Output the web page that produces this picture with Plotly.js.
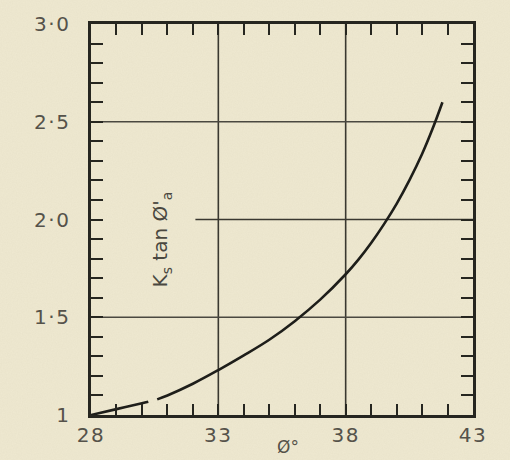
<!DOCTYPE html>
<html>
<head>
<meta charset="utf-8">
<script src="https://cdn.plot.ly/plotly-3.0.1.min.js"></script>
<style>
html,body{margin:0;padding:0;}
body{width:510px;height:460px;background-color:#efe9d1;
background-image:url("data:image/svg+xml;utf8,<svg xmlns='http://www.w3.org/2000/svg' width='510' height='460'><filter id='n'><feTurbulence type='fractalNoise' baseFrequency='0.8' numOctaves='3' stitchTiles='stitch'/><feColorMatrix values='0 0 0 0 0.5  0 0 0 0 0.46  0 0 0 0 0.32  0 0 0 0.12 0'/></filter><rect width='100%' height='100%' filter='url(%23n)'/></svg>");}
#chart{width:510px;height:460px;}
#chart .xtick text, #chart .ytick text{letter-spacing:1.5px;}
</style>
</head>
<body>
<div id="chart"></div>
<script>
// Curve: Ks tan(phi'_a) vs phi (degrees); null marks the small break in the drawn line
const phi = [28, 29, 30, 30.25, 30.4, 30.6, 31, 32, 33, 34, 35, 36, 37, 38, 38.5, 39, 39.5, 40, 40.5, 41, 41.4, 41.8];
const ksTan = [1.00, 1.03, 1.06, 1.068, null, 1.08, 1.10, 1.16, 1.23, 1.305, 1.385, 1.48, 1.59, 1.72, 1.795, 1.88, 1.975, 2.08, 2.20, 2.335, 2.46, 2.60];

const xTickVals = [28, 33, 38, 43];
const xTickText = ["28", "33", "38", "43"];
const yTickVals = [1, 1.5, 2, 2.5, 3];
const yTickText = ["1", "1·5", "2·0", "2·5", "3·0"];

// Grid lines drawn on the chart
const gridX = [33, 38];
const gridY = [1.5, 2.5];
const partialGridY = [2.0];
const partialGridStart = [32.1];

const ink = "#262620";
const labelColor = "#55524a";

const shapes = [];
gridX.forEach(v => shapes.push({type:"line", xref:"x", yref:"paper", x0:v, x1:v, y0:0, y1:1, line:{color:"#3a3830", width:1.6}, layer:"below"}));
gridY.forEach(v => shapes.push({type:"line", xref:"paper", yref:"y", x0:0, x1:1, y0:v, y1:v, line:{color:"#4a4840", width:1.3}, layer:"below"}));
partialGridY.forEach((v, i) => shapes.push({type:"line", xref:"x", yref:"y", x0:partialGridStart[i], x1:43, y0:v, y1:v, line:{color:"#3a3830", width:1.5}, layer:"below"}));

const trace = {
  x: phi, y: ksTan, type: "scatter", mode: "lines",
  line: {color: "#1e1e1a", width: 2.6, shape: "spline", smoothing: 1},
  connectgaps: false, hoverinfo: "skip"
};

const layout = {
  width: 510, height: 460,
  margin: {l: 91, r: 37, t: 24, b: 45},
  paper_bgcolor: "rgba(0,0,0,0)",
  plot_bgcolor: "rgba(0,0,0,0)",
  showlegend: false,
  font: {family: "DejaVu Sans, sans-serif", color: labelColor, size: 20},
  xaxis: {
    range: [28, 43], tickmode: "array", tickvals: xTickVals, ticktext: xTickText,
    ticks: "inside", ticklen: 11, tickwidth: 2, tickcolor: ink,
    minor: {tickmode: "linear", tick0: 28, dtick: 1, ticks: "inside", ticklen: 11, tickwidth: 2, tickcolor: ink, showgrid: false},
    showline: true, linecolor: ink, linewidth: 2.6, mirror: "allticks",
    showgrid: false, zeroline: false,
    tickfont: {size: 20, color: labelColor, family: "DejaVu Sans, sans-serif"}
  },
  yaxis: {
    range: [1, 3], tickmode: "array", tickvals: yTickVals, ticktext: yTickText,
    ticks: "inside", ticklen: 12, tickwidth: 2, tickcolor: ink,
    minor: {tickmode: "linear", tick0: 1, dtick: 0.1, ticks: "inside", ticklen: 12, tickwidth: 2, tickcolor: ink, showgrid: false},
    showline: true, linecolor: ink, linewidth: 2.6, mirror: "allticks",
    showgrid: false, zeroline: false, ticklabelstandoff: 14,
    tickfont: {size: 20, color: labelColor, family: "DejaVu Sans, sans-serif"}
  },
  shapes: shapes,
  annotations: [{
    text: "K<sub>s</sub> tan Ø'<sub>a</sub>", xref: "paper", yref: "paper",
    x: 0.145, y: 0.45, showarrow: false, textangle: -90,
    font: {size: 20, color: "#4a4840", family: "DejaVu Sans, sans-serif"}
  }, {
    text: "Ø°", xref: "paper", yref: "paper",
    x: 0.516, y: -0.082, xanchor: "center", yanchor: "middle", showarrow: false,
    font: {size: 17, color: labelColor, family: "DejaVu Sans, sans-serif"}
  }]
};

Plotly.newPlot("chart", [trace], layout, {displayModeBar: false, staticPlot: true});
</script>
</body>
</html>
